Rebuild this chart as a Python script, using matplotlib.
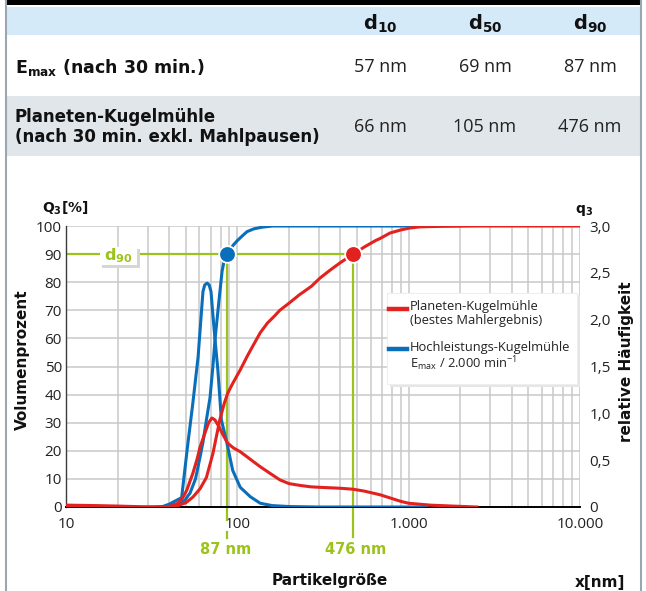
import matplotlib
matplotlib.use("Agg")
import matplotlib.pyplot as plt
from matplotlib.patches import Rectangle
from matplotlib.lines import Line2D
from matplotlib.ticker import LogLocator, NullFormatter

W, H = 646, 591
plt.rcParams['mathtext.default'] = 'regular'

# ---------------- data ----------------
# Hochleistungs-Kugelmühle Emax: cumulative Q3 [%]
emax_Q3_x = [35, 40, 45, 49.5, 53, 57, 60.6, 63, 66, 69.3, 72, 74.2, 78, 81.5, 84, 87,
             91, 95, 100, 107, 114, 125, 140, 161, 300, 1300]
emax_Q3_y = [0, 0.3, 1.0, 2.5, 5, 10, 17.8, 23, 31, 39, 50, 60, 73, 84, 88, 90,
             91.8, 93.3, 94.8, 96.5, 98, 99, 99.6, 100, 100, 100]
# Emax: density q3
emax_q3_x = [36, 40, 44, 47.3, 51, 55, 59, 63, 64.5, 66.6, 68.5, 70.2, 72, 74, 77, 80.7,
             87, 94, 104, 119, 136, 160, 200, 300, 1280]
emax_q3_y = [0, 0.03, 0.07, 0.1, 0.62, 1.11, 1.6, 2.3, 2.37, 2.39, 2.37, 2.3, 2.05, 1.8,
             1.46, 0.93, 0.68, 0.39, 0.21, 0.11, 0.04, 0.015, 0.005, 0, 0]
# Planeten-Kugelmühle: cumulative Q3 [%]
pkm_Q3_x = [10, 40, 45, 50, 55, 60.6, 66, 72, 79, 84, 88, 94, 104, 115, 125, 136, 150,
            165, 177, 200, 230, 270, 304, 348, 400, 476, 550, 640, 683, 778, 900, 1020,
            1166, 1500, 2500, 10000]
pkm_Q3_y = [0, 0, 0.5, 1.5, 3.5, 6.5, 10.5, 19, 31, 37, 40.6, 44, 48.8, 54, 58, 62, 65.5,
            68, 70, 72.5, 75.5, 78.5, 81.5, 84.3, 87, 90, 92.5, 94.8, 95.6, 97.5, 98.6, 99.3,
            99.7, 99.85, 100, 100]
# Planeten-Kugelmühle: density q3
pkm_q3_x = [10, 15, 20, 25, 30, 40, 45, 48, 50.7, 55, 58, 60.6, 65, 68, 71, 74, 78, 82,
            86, 88, 95, 104, 115, 125, 136, 155, 177, 200, 233, 270, 304, 400, 472, 550,
            683, 800, 900, 1000, 1335, 1800, 2500]
pkm_q3_y = [0.02, 0.015, 0.01, 0.005, 0, 0.005, 0.04, 0.1, 0.18, 0.36, 0.5, 0.64, 0.8,
            0.9, 0.95, 0.93, 0.86, 0.78, 0.71, 0.68, 0.63, 0.59, 0.53, 0.48, 0.43, 0.36,
            0.29, 0.25, 0.23, 0.215, 0.21, 0.2, 0.19, 0.17, 0.13, 0.09, 0.06, 0.04, 0.02,
            0.01, 0]

d90_emax = 87
d90_pkm = 476
d90_level = 90

left_ticks = [0, 10, 20, 30, 40, 50, 60, 70, 80, 90, 100]
right_ticks = [0, 0.5, 1.0, 1.5, 2.0, 2.5, 3.0]
right_tick_labels = ["0", "0,5", "1,0", "1,5", "2,0", "2,5", "3,0"]
x_ticks = [10, 100, 1000, 10000]
x_tick_labels = ["10", "100", "1.000", "10.000"]

table_cols = ["d$_{10}$", "d$_{50}$", "d$_{90}$"]
row1_label = "E$_{max}$ (nach 30 min.)"
row1_vals = ["57 nm", "69 nm", "87 nm"]
row2_label = "Planeten-Kugelmühle\n(nach 30 min. exkl. Mahlpausen)"
row2_vals = ["66 nm", "105 nm", "476 nm"]

legend_labels = ["Planeten-Kugelmühle\n(bestes Mahlergebnis)",
                 "Hochleistungs-Kugelmühle\nE$_{max}$ / 2.000 min$^{-1}$"]

# ---------------- style ----------------
RED = "#e3211e"
BLUE = "#0a6fbb"
GREEN = "#9cc31c"
GRID = "#c9c9c9"
BF = "DejaVu Sans"
RF = "Open Sans"


def fx(x):
    return x / W


def fy(y):
    return 1 - y / H


fig = plt.figure(figsize=(W / 100, H / 100), dpi=100, facecolor="white")


def frect(x0, y0, x1, y1, **kw):
    r = Rectangle((fx(x0), fy(y1)), (x1 - x0) / W, (y1 - y0) / H,
                  transform=fig.transFigure, **kw)
    fig.add_artist(r)
    return r


# ---------------- table ----------------
frect(7, 0, 641, 5, fc="black", ec="none")
frect(7, 6.5, 641, 34.5, fc="#d5eaf9", ec="none")
frect(7, 96, 641, 156, fc="#e0e6ea", ec="none")
fig.add_artist(Line2D([fx(6), fx(6)], [0, 1], transform=fig.transFigure,
                      color="#9aa6b2", lw=1.5))
fig.add_artist(Line2D([fx(641), fx(641)], [0, 1], transform=fig.transFigure,
                      color="#9aa6b2", lw=1.5))

col_x = [380, 485, 590]
for cx, t in zip(col_x, table_cols):
    fig.text(fx(cx), fy(24), t, ha="center", va="center", fontsize=14,
             fontweight="bold", family=BF, color="#111111")
fig.text(fx(15), fy(67), row1_label, ha="left", va="center", fontsize=12.5,
         fontweight="bold", family=BF, color="#111111")
for cx, t in zip(col_x, row1_vals):
    fig.text(fx(cx), fy(67), t, ha="center", va="center", fontsize=13,
             family=RF, color="#222222")
fig.text(fx(15), fy(127), row2_label, ha="left", va="center", fontsize=12,
         fontweight="bold", family=BF, color="#111111", linespacing=1.1)
for cx, t in zip(col_x, row2_vals):
    fig.text(fx(cx), fy(127), t, ha="center", va="center", fontsize=13,
             family=RF, color="#222222")

# ---------------- chart ----------------
ax = fig.add_axes([fx(66), fy(507), 514 / W, 281 / H])
ax2 = ax.twinx()

ax.set_xscale("log")
ax.set_xlim(10, 10000)
ax.set_ylim(0, 100)
ax2.set_ylim(0, 3)
ax.set_xticks(x_ticks)
ax.set_xticklabels(x_tick_labels)
ax.xaxis.set_minor_locator(LogLocator(base=10, subs=range(2, 10)))
ax.xaxis.set_minor_formatter(NullFormatter())
ax.set_yticks(left_ticks)
ax2.set_yticks(right_ticks)
ax2.set_yticklabels(right_tick_labels)

for a in (ax, ax2):
    a.tick_params(which="both", length=0, labelsize=11, colors="#222222")
    for lab in a.get_xticklabels() + a.get_yticklabels():
        lab.set_family(RF)
ax.tick_params(axis="x", pad=7)
ax.tick_params(axis="y", pad=3)
ax2.tick_params(axis="y", pad=7)

ax.grid(which="both", axis="x", color=GRID, lw=1.1)
ax.grid(which="major", axis="y", color=GRID, lw=1.1)
ax.set_axisbelow(True)
for s in ("top", "right"):
    ax.spines[s].set_visible(False)
for s in ax2.spines.values():
    s.set_visible(False)
ax.spines["left"].set_color("#3a3a3a")
ax.spines["left"].set_linewidth(1.0)
ax.spines["bottom"].set_color("black")
ax.spines["bottom"].set_linewidth(1.4)

# green d90 guide lines
ax.plot([10, d90_pkm], [d90_level, d90_level], color=GREEN, lw=1.6, zorder=1.5)
ax.plot([d90_emax, d90_emax], [d90_level, -4.6], color=GREEN, lw=1.6, zorder=1.5,
        clip_on=False)
ax.plot([d90_emax, d90_emax], [-8.9, -11.0], color=GREEN, lw=1.6, zorder=1.5,
        clip_on=False)
ax.plot([d90_pkm, d90_pkm], [d90_level, -10.7], color=GREEN, lw=1.6, zorder=1.5,
        clip_on=False)

# curves (all in ax2 so they sit above the grid)
ax2.plot(emax_q3_x, emax_q3_y, color=BLUE, lw=2.2, solid_capstyle="round")
ax2.plot(emax_Q3_x, emax_Q3_y, color=BLUE, lw=2.2, transform=ax.transData)
ax2.plot(pkm_q3_x, pkm_q3_y, color=RED, lw=2.2)
ax2.plot(pkm_Q3_x, pkm_Q3_y, color=RED, lw=2.2, transform=ax.transData)

ax2.plot([d90_emax], [d90_level], "o", ms=12, mfc=BLUE, mec="white", mew=1.3,
         transform=ax.transData, clip_on=False, zorder=10)
ax2.plot([d90_pkm], [d90_level], "o", ms=12, mfc=RED, mec="white", mew=1.3,
         transform=ax.transData, clip_on=False, zorder=10)

# d90 label box
frect(102, 249, 139.5, 267.5, fc="#d6d6d6", ec="none", zorder=4)
frect(100, 247, 137, 265, fc="white", ec="none", zorder=5)
fig.text(fx(118.5), fy(256), "d$_{90}$", ha="center", va="center", fontsize=11.5,
         fontweight="bold", family=BF, color=GREEN, zorder=6)

# legend
frect(390, 295, 579.5, 386.5, fc="#e6e6e6", ec="none", zorder=4)
frect(387, 293, 577, 384, fc="white", ec="#eeeeee", lw=0.8, zorder=5)
for (yl, col, lab) in [(309, RED, legend_labels[0]), (349, BLUE, legend_labels[1])]:
    fig.add_artist(Line2D([fx(389), fx(407)], [fy(yl), fy(yl)],
                          transform=fig.transFigure, color=col, lw=3.2, zorder=6))
    fig.text(fx(410), fy(yl - 8.5), lab, ha="left", va="top", fontsize=9.3,
             family=RF, color="#222222", linespacing=1.05, zorder=6)

# axis titles
fig.text(fx(65), fy(208), "Q$_3$[%]", ha="center", va="center", fontsize=10,
         fontweight="bold", family=BF, color="#111111")
fig.text(fx(584), fy(210), "q$_3$", ha="center", va="center", fontsize=10,
         fontweight="bold", family=BF, color="#111111")
fig.text(fx(22), fy(360), "Volumenprozent", ha="center", va="center", rotation=90,
         fontsize=11, fontweight="bold", family=BF, color="#111111")
fig.text(fx(627), fy(362), "relative Häufigkeit", ha="center", va="center",
         rotation=90, fontsize=11, fontweight="bold", family=BF, color="#111111")
fig.text(fx(330), fy(581), "Partikelgröße", ha="center", va="center", fontsize=11,
         fontweight="bold", family=BF, color="#111111")
fig.text(fx(600), fy(582), "x[nm]", ha="center", va="center", fontsize=11,
         fontweight="bold", family=BF, color="#111111")
fig.text(fx(226), fy(549), "87 nm", ha="center", va="center", fontsize=10.5,
         fontweight="bold", family=BF, color=GREEN)
fig.text(fx(356), fy(549), "476 nm", ha="center", va="center", fontsize=10.5,
         fontweight="bold", family=BF, color=GREEN)

fig.savefig("out.png", dpi=100, facecolor="white")
